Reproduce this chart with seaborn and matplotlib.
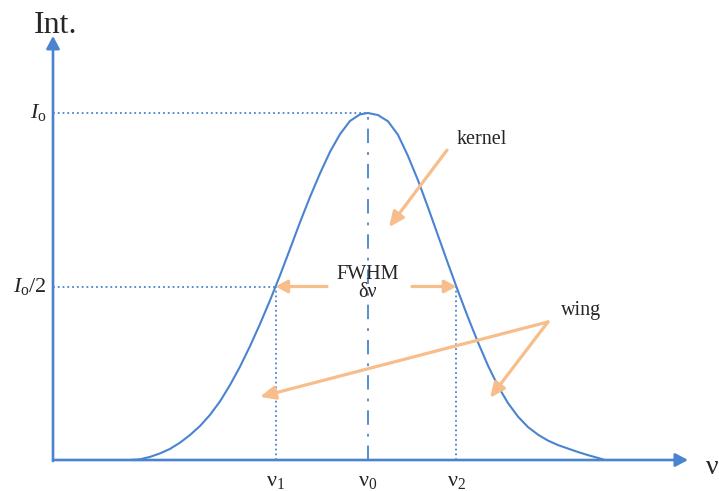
import numpy as np
import pandas as pd
import matplotlib
matplotlib.use("Agg")
import matplotlib.pyplot as plt
import seaborn as sns

# Spectral line profile: frequency offset from the line centre (arb. units)
# against intensity normalised to the peak value I_o.
freq = [-2.38, -2.28, -2.18, -2.08, -1.98, -1.88, -1.78, -1.68, -1.58, -1.48,
        -1.38, -1.28, -1.18, -1.08, -0.98, -0.88, -0.78, -0.68, -0.58, -0.48,
        -0.38, -0.28, -0.18, -0.08, 0.00,
        0.10, 0.20, 0.30, 0.40, 0.50, 0.60, 0.70, 0.80, 0.90, 1.00,
        1.10, 1.20, 1.30, 1.40, 1.50, 1.60, 1.70, 1.80, 1.90, 2.00,
        2.10, 2.20, 2.30, 2.37]
intensity = [0.000, 0.002, 0.009, 0.019, 0.032, 0.050, 0.072, 0.098, 0.130, 0.169,
             0.216, 0.269, 0.328, 0.392, 0.460, 0.532, 0.608, 0.685, 0.758, 0.826,
             0.888, 0.939, 0.977, 0.996, 1.000,
             0.994, 0.976, 0.937, 0.876, 0.806, 0.728, 0.647, 0.566, 0.487, 0.411,
             0.339, 0.272, 0.213, 0.164, 0.125, 0.095, 0.073, 0.056, 0.043, 0.033,
             0.023, 0.014, 0.006, 0.000]

peak = 1.0
half = peak / 2
y_tick_labels = [r"$I_{\mathrm{o}}$", r"$I_{\mathrm{o}}/2$"]
x_tick_labels = [r"$\mathrm{ν}_1$", r"$\mathrm{ν}_0$", r"$\mathrm{ν}_2$"]

df = pd.DataFrame({"freq": freq, "intensity": intensity})

# half-maximum crossings on both flanks of the profile
i_pk = int(np.argmax(intensity))
nu1 = float(np.interp(half, intensity[:i_pk + 1], freq[:i_pk + 1]))
nu2 = float(np.interp(half, intensity[i_pk:][::-1], freq[i_pk:][::-1]))
nu0 = freq[i_pk]
nu_marks = [nu1, nu0, nu2]

sns.set_theme(style="white")
plt.rcParams["font.family"] = ["Liberation Serif", "DejaVu Serif"]
plt.rcParams["mathtext.fontset"] = "custom"
plt.rcParams["mathtext.rm"] = "Liberation Serif"
plt.rcParams["mathtext.it"] = "Liberation Serif:italic"
plt.rcParams["mathtext.bf"] = "Liberation Serif:bold"

BLUE = "#4a84d0"
ORANGE = "#f7bd8b"

fig = plt.figure(figsize=(7.19, 4.91), dpi=100)
ax = fig.add_axes([0, 0, 1, 1])
ax.set_xlim(-3.68, 3.51)
ax.set_ylim(-0.0893, 1.3256)
ax.axis("off")

x_origin = -3.15

# coordinate axes with arrow heads
axis_style = "-|>,head_length=7.5,head_width=4"
ax.annotate("", xy=(3.20, 0), xytext=(x_origin, 0),
            arrowprops=dict(arrowstyle=axis_style, color=BLUE, lw=1.9,
                            shrinkA=0, shrinkB=0, mutation_scale=1))
ax.annotate("", xy=(x_origin, 1.222), xytext=(x_origin, -0.003),
            arrowprops=dict(arrowstyle=axis_style, color=BLUE, lw=1.9,
                            shrinkA=0, shrinkB=0, mutation_scale=1))

# the line profile
sns.lineplot(data=df, x="freq", y="intensity", ax=ax, color=BLUE, lw=1.5,
             sort=False, estimator=None, legend=False,
             solid_joinstyle="round", solid_capstyle="round")

# guide lines: peak level, half level, half-width positions, line centre
ax.plot([x_origin, nu0], [peak, peak], ls=":", color=BLUE, lw=1.3)
ax.plot([x_origin, nu1], [half, half], ls=":", color=BLUE, lw=1.3)
ax.plot([nu1, nu1], [0, half], ls=":", color=BLUE, lw=1.3)
ax.plot([nu2, nu2], [0, half], ls=":", color=BLUE, lw=1.3)
ax.plot([nu0, nu0], [0, peak], color=BLUE, lw=1.3,
        ls=(0, (8, 5, 1.5, 5)))

# axis labels
ax.text(-3.12, 1.252, "Int.", fontsize=23, ha="center", va="center")
ax.text(3.505, -0.022, "ν", fontsize=20, ha="right", va="center")
for lvl, lab in zip([peak, half], y_tick_labels):
    ax.text(-3.21, lvl, lab, fontsize=16, ha="right", va="center")
for pos, lab in zip(nu_marks, x_tick_labels):
    ax.text(pos, -0.061, lab, fontsize=16, ha="center", va="center")

# FWHM annotation
ax.text(nu0, half + 0.035, "FWHM", fontsize=14.5, ha="center", va="center")
ax.text(nu0, half - 0.017, "δν", fontsize=14.5, ha="center", va="center")
fwhm_style = "-|>,head_length=7,head_width=3.8"
ax.annotate("", xy=(nu1, half), xytext=(-0.41, half),
            arrowprops=dict(arrowstyle=fwhm_style, color=ORANGE, lw=2.3,
                            shrinkA=0, shrinkB=0, mutation_scale=1))
ax.annotate("", xy=(nu2, half), xytext=(0.44, half),
            arrowprops=dict(arrowstyle=fwhm_style, color=ORANGE, lw=2.3,
                            shrinkA=0, shrinkB=0, mutation_scale=1))

# kernel / wing callouts
diag_style = "-|>,head_length=9,head_width=4"
ax.text(1.14, 0.925, "kernel", fontsize=14.5, ha="center", va="center")
ax.annotate("", xy=(0.21, 0.671), xytext=(0.79, 0.893),
            arrowprops=dict(arrowstyle=diag_style, color=ORANGE, lw=2.3,
                            shrinkA=0, shrinkB=0, mutation_scale=1))
ax.text(2.13, 0.432, "wing", fontsize=14.5, ha="center", va="center")
for tip in [(-1.08, 0.182), (1.22, 0.179)]:
    ax.annotate("", xy=tip, xytext=(1.80, 0.398),
                arrowprops=dict(arrowstyle=diag_style, color=ORANGE, lw=2.3,
                                shrinkA=0, shrinkB=0, mutation_scale=1))

fig.savefig("out.png", dpi=100)
